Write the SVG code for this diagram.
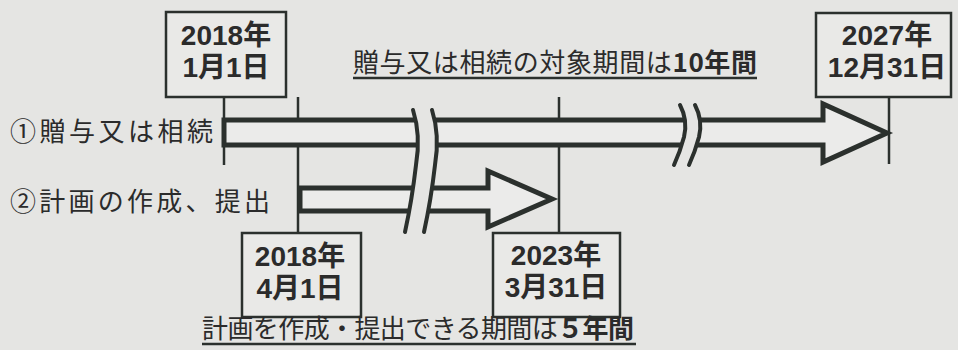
<svg xmlns="http://www.w3.org/2000/svg" width="958" height="350" viewBox="0 0 958 350">
<style>
.ln{stroke:#2b302d;fill:none;stroke-width:2.5}
.box{stroke:#2b302d;fill:#e9e9e7;stroke-width:2.5}
.arr{stroke:#2b302d;fill:#ebebea;stroke-width:5;stroke-linejoin:miter}
.brk{stroke:#2b302d;fill:none;stroke-width:4;stroke-linecap:round}
.gap{fill:#e5e5e3;stroke:none}
.d{font-family:"Liberation Sans","Noto Sans CJK JP",sans-serif;font-weight:700;font-size:28px;fill:#2b2b2b;text-anchor:middle}
.t{font-family:"Noto Sans CJK JP","Noto Sans",sans-serif;font-size:26px;fill:#2b2b2b}
.b{font-weight:700}
</style>
<rect x="0" y="0" width="958" height="350" fill="#e5e5e3"/>
<g id="connectors">
<line class="ln" x1="224" y1="97" x2="224" y2="165"/>
<line class="ln" x1="298" y1="97" x2="298" y2="233"/>
<line class="ln" x1="559" y1="97" x2="559" y2="233"/>
<line class="ln" x1="889" y1="97" x2="889" y2="164"/>
</g>
<g id="arrow1">
<polygon class="arr" points="224,120 823,120 823,104 887,133 823,162 823,145 224,145"/>
</g>
<g id="arrow2">
<polygon class="arr" points="300,188 488,188 488,171 552,199 488,227 488,211 300,211"/>
</g>
<g id="break1">
<path class="gap" d="M413,110 Q421,135 416,165 Q412,200 405,232 L424,232 Q431,200 435,165 Q440,135 432,110 Z"/>
<path class="brk" d="M413,110 Q421,135 416,165 Q412,200 405,232"/>
<path class="brk" d="M432,110 Q440,135 435,165 Q431,200 424,232"/>
</g>
<g id="break2">
<path class="gap" d="M680,105 Q688,120 684,137 Q680,152 674,165 L689,165 Q695,152 699,137 Q703,120 695,105 Z"/>
<path class="brk" d="M680,105 Q688,120 684,137 Q680,152 674,165"/>
<path class="brk" d="M695,105 Q703,120 699,137 Q695,152 689,165"/>
</g>
<g id="box-2018-0101">
<rect class="box" x="166" y="12" width="120" height="85"/>
<text class="d" x="226" y="45">2018年</text>
<text class="d" x="226" y="77">1月1日</text>
</g>
<g id="box-2027-1231">
<rect class="box" x="816" y="13" width="135" height="84"/>
<text class="d" x="887" y="45">2027年</text>
<text class="d" x="887" y="77">12月31日</text>
</g>
<g id="box-2018-0401">
<rect class="box" x="242" y="233" width="119" height="84"/>
<text class="d" x="300" y="266">2018年</text>
<text class="d" x="300" y="298">4月1日</text>
</g>
<g id="box-2023-0331">
<rect class="box" x="493" y="233" width="127" height="84"/>
<text class="d" x="556" y="265">2023年</text>
<text class="d" x="556" y="297">3月31日</text>
</g>
<g id="label1">
<text class="t" x="10" y="141" font-size="28" textLength="203" lengthAdjust="spacing">①贈与又は相続</text>
</g>
<g id="label2">
<text class="t" x="10" y="211" font-size="28" textLength="260" lengthAdjust="spacing">②計画の作成、提出</text>
</g>
<g id="title-top">
<text class="t" x="353" y="72" textLength="404" lengthAdjust="spacing">贈与又は相続の対象期間は<tspan class="b">10年間</tspan></text>
<line class="ln" x1="353" y1="78" x2="757" y2="78" stroke-width="2"/>
</g>
<g id="title-bottom">
<text class="t" x="202" y="338" font-size="25" textLength="432" lengthAdjust="spacing">計画を作成・提出できる期間は<tspan class="b">５年間</tspan></text>
<line class="ln" x1="202" y1="344" x2="636" y2="344" stroke-width="2"/>
</g>
</svg>
